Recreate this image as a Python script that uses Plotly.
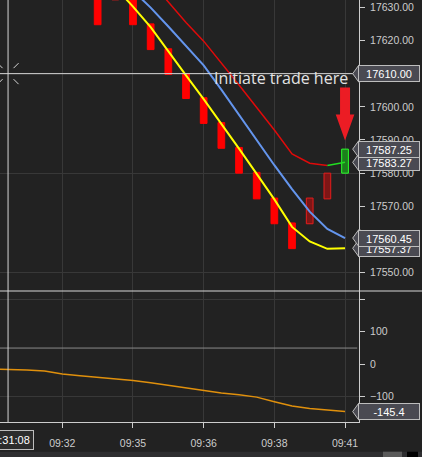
import plotly.graph_objects as go

# ---------------- data ----------------
BAR_IDX = [6, 7, 8, 9, 10, 11, 12, 13, 14, 15, 16, 17, 18, 19, 20]
BAR_OPEN = [17632.25, 17632.25, 17632.25, 17625.00, 17617.50, 17610.00, 17602.75,
            17595.25, 17587.75, 17580.25, 17572.50, 17565.00, 17564.75, 17572.25, 17580.00]
BAR_CLOSE = [17624.75, 17639.75, 17624.75, 17617.25, 17609.75, 17602.50, 17595.00,
             17587.50, 17580.00, 17572.25, 17564.75, 17557.25, 17572.50, 17580.00, 17587.25]

YELLOW_IDX = [7, 8, 9, 10, 11, 12, 13, 14, 15, 16, 17, 18, 19, 20]
YELLOW = [17636.0, 17630.2, 17624.0, 17616.6, 17609.5, 17602.3, 17595.0,
          17587.4, 17579.8, 17572.1, 17563.8, 17559.4, 17557.2, 17557.37]

BLUE_IDX = [8, 9, 10, 11, 12, 13, 14, 15, 16, 17, 18, 19, 20]
BLUE = [17635.0, 17629.9, 17624.2, 17618.3, 17612.5, 17605.2, 17597.6,
        17590.0, 17582.4, 17575.2, 17568.4, 17563.2, 17560.45]

RED_IDX = [9, 10, 11, 12, 13, 14, 15, 16, 17, 18, 19, 20]
RED = [17637.8, 17631.6, 17625.4, 17619.8, 17613.3, 17606.6, 17599.8,
       17593.0, 17585.8, 17583.0, 17582.3, 17583.27]

OSC_IDX = list(range(0, 21))
OSC = [-15.0, -16.0, -17.5, -20.5, -30.0, -35.0, -39.5, -44.0, -50.0, -57.0, -65.0,
       -73.0, -82.0, -88.0, -94.0, -101.0, -115.0, -128.0, -136.0, -141.5, -145.4]
OSC_LEVEL = 50

TICK_IDX = [4, 8, 12, 16, 20]
TICK_TEXT = ["09:32", "09:35", "09:36", "09:38", "09:41"]
OSC_TICKS = [-100, 0, 100]

CROSS_IDX = 0.93
CROSS_PRICE = 17610.00
CROSS_TIME = "09:31:08"
SIGNAL_TEXT = "Initiate trade here"

# ---------------- style ----------------
W, H = 422, 457
ML, MR, MT, MB = 0, 63, 0, 35
PW, PH = W - ML - MR, H - MT - MB
SPLIT = 131 / PH                       # lower-panel height fraction
BG = "#222222"
GRID = "#383838"
AXIS = "#cdcdcd"
TXT = "#cccccc"
FONT = "Liberation Sans, Arial, sans-serif"
FLAG_BG = "#4a4a52"
FLAG_BORDER = "#bdbdbd"

X_RANGE = [0.474, 20.79]
Y_RANGE = [17544.48, 17632.20]
Y2_RANGE = [-177.5, 225.5]

red_at = dict(zip(RED_IDX, RED))


def is_signal(i, o, c):
    return c > o and i in red_at and c > red_at[i]


fills, borders, bases, heights = [], [], [], []
signal_bars = []
for i, o, c in zip(BAR_IDX, BAR_OPEN, BAR_CLOSE):
    bases.append(min(o, c))
    heights.append(abs(c - o))
    if c < o:
        fills.append("#ff0000"); borders.append("#ff0000")
    elif is_signal(i, o, c):
        fills.append("#1c7f1c"); borders.append("#2cff2c")
        signal_bars.append((i, c))
    else:
        fills.append("#7e1616"); borders.append("#e41c1c")

signal_idx = {s[0] for s in signal_bars}

fig = go.Figure()

fig.add_trace(go.Bar(
    x=BAR_IDX, y=heights, base=bases, width=0.38,
    marker=dict(color=fills, line=dict(color=borders, width=1)),
    xaxis="x", yaxis="y", hoverinfo="skip", showlegend=False))

fig.add_trace(go.Scatter(x=BLUE_IDX, y=BLUE, mode="lines",
                         line=dict(color="#6495ed", width=2),
                         xaxis="x", yaxis="y", hoverinfo="skip", showlegend=False))
fig.add_trace(go.Scatter(x=YELLOW_IDX, y=YELLOW, mode="lines",
                         line=dict(color="#ffff00", width=2),
                         xaxis="x", yaxis="y", hoverinfo="skip", showlegend=False))

# red band line, turning green on signal bars
red_y, green_y = [], []
n = len(RED_IDX)
for j in range(n):
    nxt_g = j + 1 < n and RED_IDX[j + 1] in signal_idx
    nxt_r = j + 1 < n and RED_IDX[j + 1] not in signal_idx
    cur_g = j > 0 and RED_IDX[j] in signal_idx
    cur_r = j > 0 and RED_IDX[j] not in signal_idx
    red_y.append(RED[j] if (nxt_r or cur_r) else None)
    green_y.append(RED[j] if (nxt_g or cur_g) else None)
fig.add_trace(go.Scatter(x=RED_IDX, y=red_y, mode="lines",
                         line=dict(color="#e00a0a", width=1.5),
                         xaxis="x", yaxis="y", hoverinfo="skip", showlegend=False))
fig.add_trace(go.Scatter(x=RED_IDX, y=green_y, mode="lines",
                         line=dict(color="#22dd22", width=1.5),
                         xaxis="x", yaxis="y", hoverinfo="skip", showlegend=False))

# oscillator
fig.add_trace(go.Scatter(x=OSC_IDX, y=OSC, mode="lines",
                         line=dict(color="#e0900c", width=1.5),
                         xaxis="x2", yaxis="y2", hoverinfo="skip", showlegend=False))

# invisible anchors for the grid-only overlay axes
fig.add_trace(go.Scatter(x=[X_RANGE[0]], y=[Y_RANGE[0]], mode="markers",
                         marker=dict(opacity=0), xaxis="x", yaxis="y3",
                         hoverinfo="skip", showlegend=False))
fig.add_trace(go.Scatter(x=[X_RANGE[0]], y=[Y2_RANGE[0]], mode="markers",
                         marker=dict(opacity=0), xaxis="x2", yaxis="y4",
                         hoverinfo="skip", showlegend=False))

tickfont = dict(family=FONT, size=10.5, color=TXT)

fig.update_layout(
    width=W, height=H, margin=dict(l=ML, r=MR, t=MT, b=MB),
    paper_bgcolor=BG, plot_bgcolor=BG, barmode="overlay",
    showlegend=False, hovermode=False,
    xaxis=dict(domain=[0, 1], anchor="y", range=X_RANGE, tickvals=TICK_IDX,
               showticklabels=False, ticks="", showgrid=True, gridcolor=GRID,
               gridwidth=1, zeroline=False, showline=False, fixedrange=True),
    xaxis2=dict(domain=[0, 1], anchor="y2", range=X_RANGE, matches="x",
                tickvals=TICK_IDX, ticktext=TICK_TEXT, ticks="outside", ticklen=5,
                tickcolor=AXIS, tickfont=tickfont, ticklabelstandoff=6,
                showgrid=True, gridcolor=GRID, zeroline=False,
                showline=True, linecolor=AXIS, linewidth=1),
    yaxis=dict(domain=[SPLIT, 1], anchor="x", side="right", range=Y_RANGE,
               tick0=17550, dtick=10, tickformat=".2f", ticks="outside", ticklen=5,
               tickcolor=AXIS, tickfont=tickfont, ticklabelstandoff=3,
               showgrid=False, zeroline=False, showline=True, linecolor=AXIS),
    yaxis3=dict(overlaying="y", anchor="x", side="right", range=Y_RANGE,
                tick0=17550, dtick=30, showticklabels=False, ticks="",
                showgrid=True, gridcolor=GRID, zeroline=False, showline=False),
    yaxis2=dict(domain=[0, SPLIT], anchor="x2", side="right", range=Y2_RANGE,
                tickvals=OSC_TICKS, ticks="outside", ticklen=5, tickcolor=AXIS,
                tickfont=tickfont, ticklabelstandoff=3,
                showgrid=False, zeroline=False, showline=True, linecolor=AXIS),
    yaxis4=dict(overlaying="y2", anchor="x2", side="right", range=Y2_RANGE,
                tick0=-100, dtick=300, showticklabels=False, ticks="outside",
                ticklen=5, tickcolor=AXIS,
                showgrid=True, gridcolor=GRID, zeroline=False, showline=False),
)

# oscillator reference level
fig.add_shape(type="line", xref="paper", yref="y2", x0=0, x1=0.995,
              y0=OSC_LEVEL, y1=OSC_LEVEL, line=dict(color="#8a8a8a", width=1))

# pane splitter
fig.add_shape(type="line", xref="paper", yref="paper", x0=0, x1=W / PW,
              y0=SPLIT, y1=SPLIT, line=dict(color="#d6d6d6", width=1), layer="above")

# crosshair
CH = "#d6d6d6"
fig.add_shape(type="line", xref="x", yref="paper", x0=CROSS_IDX, x1=CROSS_IDX,
              y0=0, y1=1, line=dict(color=CH, width=1), layer="above")
fig.add_shape(type="line", xref="paper", yref="y", x0=0, x1=1,
              y0=CROSS_PRICE, y1=CROSS_PRICE, line=dict(color=CH, width=1), layer="above")
for sx in (-1, 1):
    for sy in (-1, 1):
        fig.add_shape(type="line", xref="x", yref="y", xsizemode="pixel",
                      ysizemode="pixel", xanchor=CROSS_IDX, yanchor=CROSS_PRICE,
                      x0=5.5 * sx, y0=5.5 * sy, x1=10.5 * sx, y1=10.5 * sy,
                      line=dict(color=CH, width=1), layer="above")

# signal arrow and text
for si, sc in signal_bars:
    fig.add_shape(type="path", xref="x", yref="y", xsizemode="pixel",
                  ysizemode="pixel", xanchor=si, yanchor=sc,
                  path="M 0,8.5 L -9.3,34.5 L -5,34.5 L -5,61.5 L 5,61.5 L 5,34.5 L 9.3,34.5 Z",
                  fillcolor="#ec1c24", line=dict(width=0), layer="above")
    fig.add_annotation(x=si, y=sc, xref="x", yref="y", xanchor="right",
                       yanchor="middle", xshift=4.5, yshift=71, showarrow=False,
                       text=SIGNAL_TEXT,
                       font=dict(family="Open Sans, Noto Sans, sans-serif",
                                 size=16, color="#e2e2e2"))

# value flags on the price axis
TIP = -6.3
FLAG_X = (PW - 0.7) / PW


def add_flag(value, yref, text):
    fig.add_shape(type="path", xref="paper", yref=yref, xsizemode="pixel",
                  ysizemode="pixel", xanchor=1, yanchor=value,
                  path=f"M {TIP},0 L -0.2,8.5 L 1,8.5 L 1,-8.5 L -0.2,-8.5 Z",
                  fillcolor=FLAG_BG, line=dict(color=FLAG_BORDER, width=1),
                  layer="above")
    fig.add_annotation(x=FLAG_X, y=value, xref="paper", yref=yref, xanchor="left",
                       yanchor="middle", showarrow=False, text=text,
                       width=58, height=13, borderpad=1, borderwidth=1,
                       bgcolor=FLAG_BG, bordercolor=FLAG_BORDER, align="center",
                       font=dict(family=FONT, size=11, color="#ffffff"))


flags = [(YELLOW[-1], "y", f"{YELLOW[-1]:.2f}"),
         (BLUE[-1], "y", f"{BLUE[-1]:.2f}"),
         (RED[-1], "y", f"{RED[-1]:.2f}"),
         (BAR_CLOSE[-1], "y", f"{BAR_CLOSE[-1]:.2f}"),
         (CROSS_PRICE, "y", f"{CROSS_PRICE:.2f}")]
for v, yr, t in flags:
    add_flag(v, yr, t)
add_flag(OSC[-1], "y2", f"{OSC[-1]:.1f}")

# crosshair time label
fig.add_annotation(x=CROSS_IDX, xref="x2", y=-17.5 / PH, yref="paper",
                   xanchor="center", yanchor="middle", showarrow=False,
                   text=CROSS_TIME, bgcolor="#2c2c2c", bordercolor="#bdbdbd",
                   borderwidth=1, borderpad=3,
                   font=dict(family=FONT, size=11, color="#ffffff"))

# bottom scroll strip
fig.add_shape(type="rect", xref="paper", yref="paper", x0=0, x1=W / PW,
              y0=-(H - PH) / PH, y1=-29.7 / PH, fillcolor="#2e2e30",
              line=dict(width=0), layer="above")
fig.add_shape(type="rect", xref="paper", yref="paper", x0=383 / PW, x1=402 / PW,
              y0=-(H - PH) / PH, y1=-29.7 / PH, fillcolor="#5a5a5a",
              line=dict(width=0), layer="above")
fig.add_shape(type="rect", xref="paper", yref="paper", x0=407 / PW, x1=418 / PW,
              y0=-(H - PH) / PH, y1=-29.7 / PH, fillcolor="#000000",
              line=dict(width=0), layer="above")

fig.write_html("out.html", config={"displayModeBar": False},
               post_script="document.body.style.margin='0';"
                           "document.body.style.background='" + BG + "';")
